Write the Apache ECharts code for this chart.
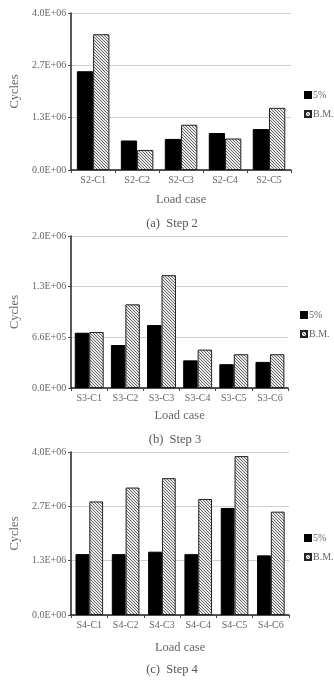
<!DOCTYPE html>
<html>
<head>
<meta charset="utf-8">
<script src="https://cdn.jsdelivr.net/npm/echarts@6/dist/echarts.min.js"></script>
<style>
  html, body { margin: 0; padding: 0; background: #fff; }
</style>
</head>
<body>
<div id="main" style="width: 334px; height: 681px;"></div>
<script>
// 数据
var cats2 = ['S2-C1', 'S2-C2', 'S2-C3', 'S2-C4', 'S2-C5'];
var step2Pct = [2510000, 750000, 790000, 940000, 1040000];
var step2BM = [3450000, 510000, 1150000, 800000, 1580000];

var cats3 = ['S3-C1', 'S3-C2', 'S3-C3', 'S3-C4', 'S3-C5', 'S3-C6'];
var step3Pct = [720000, 560000, 820000, 360000, 310000, 340000];
var step3BM = [730000, 1090000, 1470000, 500000, 440000, 440000];

var cats4 = ['S4-C1', 'S4-C2', 'S4-C3', 'S4-C4', 'S4-C5', 'S4-C6'];
var step4Pct = [1490000, 1490000, 1550000, 1490000, 2620000, 1460000];
var step4BM = [2780000, 3120000, 3350000, 2840000, 3890000, 2530000];

var captions = ['(a)  Step 2', '(b)  Step 3', '(c)  Step 4'];

var FONT = '"Liberation Serif", "DejaVu Serif", serif';
var GRAY = '#666';

// 斜线填充
var cv = document.createElement('canvas');
cv.width = 3; cv.height = 3;
var ctx = cv.getContext('2d');
ctx.fillStyle = '#e8e8e8';
ctx.fillRect(0, 0, 3, 3);
ctx.fillStyle = '#6a6a6a';
for (var i = 0; i < 3; i++) ctx.fillRect(i, i, 1, 1);
var hatch = { image: cv, repeat: 'repeat' };

function fmt(v) {
    var s = v.toExponential(1).split('e');
    var e = parseInt(s[1], 10);
    var sign = e < 0 ? '-' : '+';
    e = Math.abs(e);
    return s[0] + 'E' + sign + (e < 10 ? '0' + e : e);
}

var grids = [
    { left: 62, top: 13, width: 229, height: 157 },
    { left: 63, top: 236, width: 225, height: 152 },
    { left: 57, top: 452, width: 232, height: 163 }
];
var yMax = [3990000, 1980000, 3990000];
var yInt = [1330000, 660000, 1330000];
var allCats = [cats2, cats3, cats4];
var pct = [step2Pct, step3Pct, step4Pct];
var bm = [step2BM, step3BM, step4BM];
var catGap = ['26%', '20%', '24%'];
var xNameGap = [23, 21, 26];
var yNameGap = [48, 45, 43];
var legendLeft = [304, 300, 304];
var legendTop = [90, 310, 533];
var captionTop = [212, 428, 658];
var captionX = [167, 170, 167];

var xAxes = [], yAxes = [], series = [], legends = [], titles = [];
for (var k = 0; k < 3; k++) {
    xAxes.push({
        type: 'category', gridIndex: k, data: allCats[k],
        name: 'Load case', nameLocation: 'middle', nameGap: xNameGap[k],
        nameTextStyle: { fontFamily: FONT, fontSize: 12.5, color: GRAY },
        axisLine: { lineStyle: { color: '#222', width: 1.5 } },
        axisTick: { show: true, length: 3, lineStyle: { color: '#444' } },
        axisLabel: { fontFamily: FONT, fontSize: 10, color: GRAY, margin: 5 }
    });
    yAxes.push({
        type: 'value', gridIndex: k, min: 0, max: yMax[k], interval: yInt[k],
        name: 'Cycles', nameLocation: 'middle', nameGap: yNameGap[k],
        nameTextStyle: { fontFamily: FONT, fontSize: 12.5, color: GRAY },
        axisLine: { show: true, lineStyle: { color: '#222', width: 1.5 } },
        axisTick: { show: true, length: 3, lineStyle: { color: '#444' } },
        splitLine: { lineStyle: { color: '#cfcfcf' } },
        axisLabel: { fontFamily: FONT, fontSize: 10, color: GRAY, margin: 5, formatter: fmt }
    });
    series.push({
        name: '5%', type: 'bar', xAxisIndex: k, yAxisIndex: k, data: pct[k],
        barGap: '0%', barCategoryGap: catGap[k],
        itemStyle: { color: '#000', borderColor: '#000', borderWidth: 1 }
    });
    series.push({
        name: 'B.M.', type: 'bar', xAxisIndex: k, yAxisIndex: k, data: bm[k],
        barGap: '0%', barCategoryGap: catGap[k],
        itemStyle: { color: hatch, borderColor: '#222', borderWidth: 1 }
    });
    legends.push({
        orient: 'vertical', left: legendLeft[k], top: legendTop[k], padding: 0,
        itemWidth: 6, itemHeight: 6, itemGap: 9,
        icon: 'rect', selectedMode: false,
        textStyle: { fontFamily: FONT, fontSize: 10, color: GRAY, padding: [0, 0, 0, -3] },
        data: ['5%', 'B.M.']
    });
    titles.push({
        text: captions[k], left: captionX[k], top: captionTop[k], textAlign: 'center',
        textStyle: { fontFamily: FONT, fontSize: 12.5, fontWeight: 'normal', color: '#555' }
    });
}

var myChart = echarts.init(document.getElementById('main'));
var option = {
    animation: false,
    title: titles,
    legend: legends,
    grid: grids,
    xAxis: xAxes,
    yAxis: yAxes,
    series: series
};
myChart.setOption(option, true);
</script>
</body>
</html>
